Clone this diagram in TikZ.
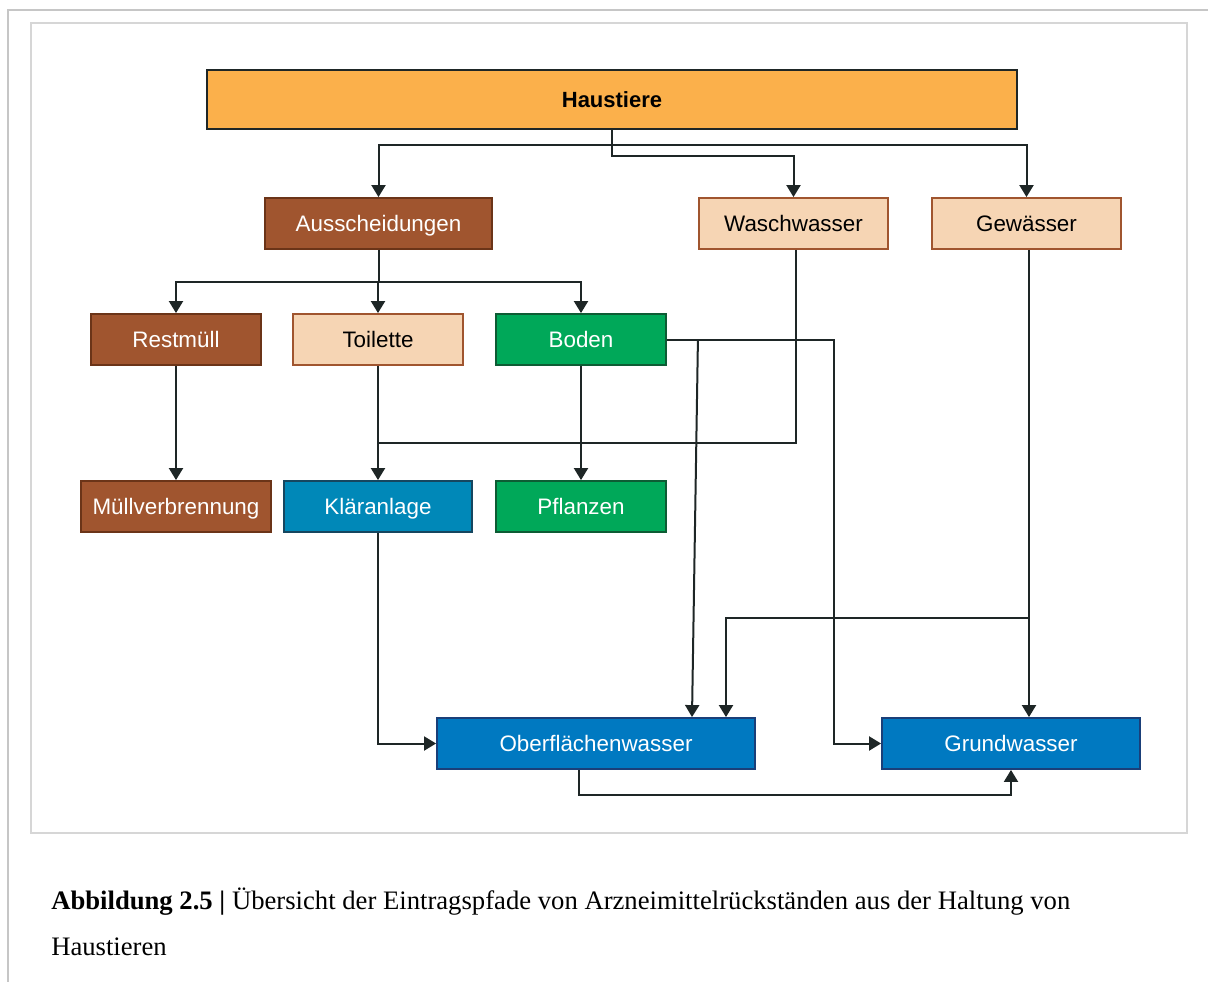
\documentclass[tikz,border=0pt]{standalone}
\usepackage{fontspec}
\setmainfont{Liberation Serif}
\newfontfamily\boxfont{Liberation Sans}
\usetikzlibrary{arrows.meta,positioning,calc}

\definecolor{orangebox}{HTML}{FBB04B}
\definecolor{brownbox}{HTML}{A0552F}
\definecolor{brownline}{HTML}{6B3418}
\definecolor{peachbox}{HTML}{F6D5B4}
\definecolor{greenbox}{HTML}{00A859}
\definecolor{greenline}{HTML}{0D5C34}
\definecolor{tealbox}{HTML}{0088B8}
\definecolor{tealline}{HTML}{16465F}
\definecolor{bluebox}{HTML}{0079C1}
\definecolor{blueline}{HTML}{1A3F79}
\definecolor{linie}{HTML}{1E2626}
\definecolor{rahmen}{HTML}{D6D6D6}
\definecolor{rahmenaussen}{HTML}{C6C6C6}

\begin{document}
\begin{tikzpicture}[x=0.75pt,y=-0.75pt]
	% one unit is one pixel of the original figure, y runs downwards
	\tikzset{box/.style={draw,rectangle,line width=1.4pt,minimum height=38.25pt,inner sep=0pt,text height=12pt,text depth=0pt,font=\boxfont\fontsize{16.8}{20}\selectfont},
		wd/.style={minimum width=#1*0.75pt}, % box width in pixels
		dunkel/.style={box,fill=brownbox,draw=brownline,text=white},
		hell/.style={box,fill=peachbox,draw=brownbox,text=black},
		gruen/.style={box,fill=greenbox,draw=greenline,text=white},
		klar/.style={box,fill=tealbox,draw=tealline,text=white},
		wasser/.style={box,fill=bluebox,draw=blueline,text=white},
		pfeil/.style={draw=linie,line width=1.5pt,-{Triangle[length=9pt,width=10.5pt]}},
	}
	\useasboundingbox (0,0) rectangle (1208,982);
	% the frames round the figure
	\draw[rahmenaussen,line width=1.8pt] (8,982) -- (8,10) -- (1208,10);
	\draw[rahmen,line width=1.5pt] (31,23) rectangle (1187,833);
	% top box
	\node[box,fill=orangebox,draw=linie,wd=810,minimum height=44.25pt,font=\boxfont\bfseries\fontsize{16.5}{20}\selectfont] (haustiere) at (612,99.5) {Haustiere};
	% second row
	\node[dunkel,wd=227] (ausscheid) at (378.5,223.5) {Ausscheidungen};
	\node[hell,wd=189] (waschw) at (793.5,223.5) {Waschwasser};
	\node[hell,wd=189] (gewaesser) at (1026.5,223.5) {Gewässer};
	% third row
	\node[dunkel,wd=170] (restm) at (176,339.5) {Restmüll};
	\node[hell,wd=170] (toilette) at (378,339.5) {Toilette};
	\node[gruen,wd=170] (boden) at (581,339.5) {Boden};
	% fourth row
	\node[dunkel,wd=190] (muellv) at (176,506.5) {Müllverbrennung};
	\node[klar,wd=188] (klaer) at (378,506.5) {Kläranlage};
	\node[gruen,wd=170] (pflanzen) at (581,506.5) {Pflanzen};
	% the two waters at the bottom
	\node[wasser,wd=318] (oberfl) at (596,743.5) {Oberflächenwasser};
	\node[wasser,wd=258] (grundw) at (1011,743.5) {Grundwasser};
	% junction where the Waschwasser line meets the Toilette line
	\coordinate (kjoin) at (378,443);

	\draw[pfeil] (haustiere.south) -- ++(0,15) -| (ausscheid.north);
	\draw[pfeil] (haustiere.south) -- ++(0,15) -| (gewaesser.north);
	\draw[pfeil] (haustiere.south) -- ++(0,26) -| (waschw.north);
	\draw[pfeil] (ausscheid.south) -- ++(0,32) -| (restm.north);
	\draw[pfeil] (ausscheid.south) -- ++(0,32) -| (toilette.north);
	\draw[pfeil] (ausscheid.south) -- ++(0,32) -| (boden.north);
	\draw[pfeil] (restm) -- (muellv);
	\draw[pfeil] (toilette) -- (klaer);
	\draw[pfeil] (boden) -- (pflanzen);
	\draw[draw=linie,line width=1.5pt] ($(waschw.south)+(2.5,0)$) |- (kjoin);
	% Boden goes to both waters
	\draw[pfeil] (boden.east) -- ++(167,0) |- (grundw.west);
	\draw[pfeil] ($(boden.east)+(31,0)$) -- ($(oberfl.north)+(96,0)$);
	% Gewaesser goes to both waters too
	\draw[pfeil] ($(gewaesser.south)+(2.5,0)$) -- ($(gewaesser.south |- grundw.north)+(2.5,0)$);
	\draw[pfeil] ($(gewaesser.south)+(2.5,368)$) -| ($(oberfl.north)+(130,0)$);
	\draw[pfeil] (klaer.south) |- (oberfl.west);
	\draw[pfeil] ($(oberfl.south)+(-17,0)$) -- ++(0,25) -| (grundw.south);

	% caption below the figure
	\node[anchor=base west,inner sep=0pt,font=\fontsize{20}{24}\selectfont] (unterschrift) at (51,909) {\textbf{Abbildung 2.5 |} Übersicht der Eintragspfade von Arzneimittelrückständen aus der Haltung von};
	\node[anchor=base west,inner sep=0pt,font=\fontsize{20}{24}\selectfont] (unterschrift2) at (51,955) {Haustieren};
\end{tikzpicture}
\end{document}
